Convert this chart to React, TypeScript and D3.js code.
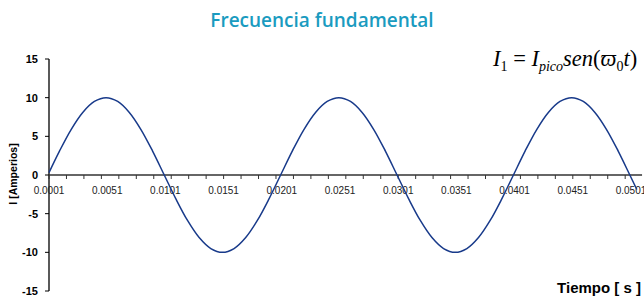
import React from "react";
import * as d3 from "d3";

// time (s) and current (A)
const timeSeconds = [
  0.0001, 0.001, 0.002, 0.003, 0.004, 0.005, 0.006, 0.007, 0.008, 0.009, 0.01,
  0.011, 0.012, 0.013, 0.014, 0.015, 0.016, 0.017, 0.018, 0.019, 0.02,
  0.021, 0.022, 0.023, 0.024, 0.025, 0.026, 0.027, 0.028, 0.029, 0.03,
  0.031, 0.032, 0.033, 0.034, 0.035, 0.036, 0.037, 0.038, 0.039, 0.04,
  0.041, 0.042, 0.043, 0.044, 0.045, 0.046, 0.047, 0.048, 0.049, 0.05, 0.0506,
];
const currentAmps = [
  0.31, 3.09, 5.88, 8.09, 9.51, 10, 9.51, 8.09, 5.88, 3.09, 0,
  -3.09, -5.88, -8.09, -9.51, -10, -9.51, -8.09, -5.88, -3.09, 0,
  3.09, 5.88, 8.09, 9.51, 10, 9.51, 8.09, 5.88, 3.09, 0,
  -3.09, -5.88, -8.09, -9.51, -10, -9.51, -8.09, -5.88, -3.09, 0,
  3.09, 5.88, 8.09, 9.51, 10, 9.51, 8.09, 5.88, 3.09, 0, -1.87,
];
const xTickLabels = ["0.0001", "0.0051", "0.0101", "0.0151", "0.0201", "0.0251", "0.0301", "0.0351", "0.0401", "0.0451", "0.0501"];
const yTicks = [15, 10, 5, 0, -5, -10, -15];

const W = 644;
const H = 299;

export default function App() {
  const points = timeSeconds.map((t, i) => ({ t, v: currentAmps[i] }));

  const x = d3.scaleLinear().domain([0.0001, 0.0501]).range([49, 631]);
  const y = d3.scaleLinear().domain([-15, 15]).range([291, 59]);
  const xEnd = 0.05105;

  const lineGen = d3
    .line<{ t: number; v: number }>()
    .x((d) => x(d.t))
    .y((d) => y(d.v))
    .curve(d3.curveCatmullRom);

  // minor ticks every 15 categories of 0.0001 s
  const minorTicks = d3.range(0.0001, xEnd, 0.0015);

  return (
    <svg width={W} height={H} style={{ display: "block", position: "fixed", left: 0, top: 0 }}>
      <rect width={W} height={H} fill="#fff" />
      <text x={W / 2} y={27} textAnchor="middle" fill="#1a9bc0"
        style={{ fontFamily: "'Open Sans', sans-serif", fontSize: 19, fontWeight: 600 }}>
        Frecuencia fundamental
      </text>

      {/* formula */}
      <text x={493} y={66} fill="#000" style={{ fontFamily: "'Liberation Serif', serif", fontSize: 22.5 }}>
        <tspan fontStyle="italic">I</tspan>
        <tspan fontSize={14} dy={5}>1</tspan>
        <tspan dy={-5}> = </tspan>
        <tspan fontStyle="italic">I</tspan>
        <tspan fontStyle="italic" fontSize={14} dy={5}>pico</tspan>
        <tspan fontStyle="italic" dy={-5}>sen</tspan>
        <tspan>(</tspan>
        <tspan fontStyle="italic">ϖ</tspan>
        <tspan fontSize={14} dy={5}>0</tspan>
        <tspan fontStyle="italic" dy={-5}>t</tspan>
        <tspan>)</tspan>
      </text>

      {/* y axis */}
      <line x1={x(0.0001)} x2={x(0.0001)} y1={y(15)} y2={y(-15)} stroke="#000" strokeWidth={1.3} />
      {yTicks.map((v) => (
        <g key={v}>
          <line x1={x(0.0001) - 4} x2={x(0.0001)} y1={y(v)} y2={y(v)} stroke="#000" />
          <text x={38} y={y(v) + 4} textAnchor="end"
            style={{ fontFamily: "'Liberation Sans', Arial, sans-serif", fontSize: 11, fontWeight: 700 }}>
            {v}
          </text>
        </g>
      ))}
      <text transform={`translate(17,174) rotate(-90)`} textAnchor="middle"
        style={{ fontFamily: "'Liberation Sans', Arial, sans-serif", fontSize: 10.5, fontWeight: 700 }}>
        I [Amperios]
      </text>

      {/* x axis at zero */}
      <line x1={x(0.0001)} x2={x(xEnd)} y1={y(0)} y2={y(0)} stroke="#333" strokeWidth={1.3} />
      {minorTicks.map((t, i) => (
        <line key={i} x1={x(t)} x2={x(t)} y1={y(0)} y2={y(0) + 4} stroke="#333" />
      ))}
      {xTickLabels.map((lbl) => (
        <text key={lbl} x={x(+lbl)} y={y(0) + 19} textAnchor="middle" fill="#222"
          style={{ fontFamily: "'Liberation Sans', Arial, sans-serif", fontSize: 10 }}>
          {lbl}
        </text>
      ))}

      <path d={lineGen(points) || ""} fill="none" stroke="#183a8a" strokeWidth={1.5} />

      <text x={641} y={293} textAnchor="end"
        style={{ fontFamily: "'Liberation Sans', Arial, sans-serif", fontSize: 15, fontWeight: 700 }}>
        Tiempo [ s ]
      </text>
    </svg>
  );
}
